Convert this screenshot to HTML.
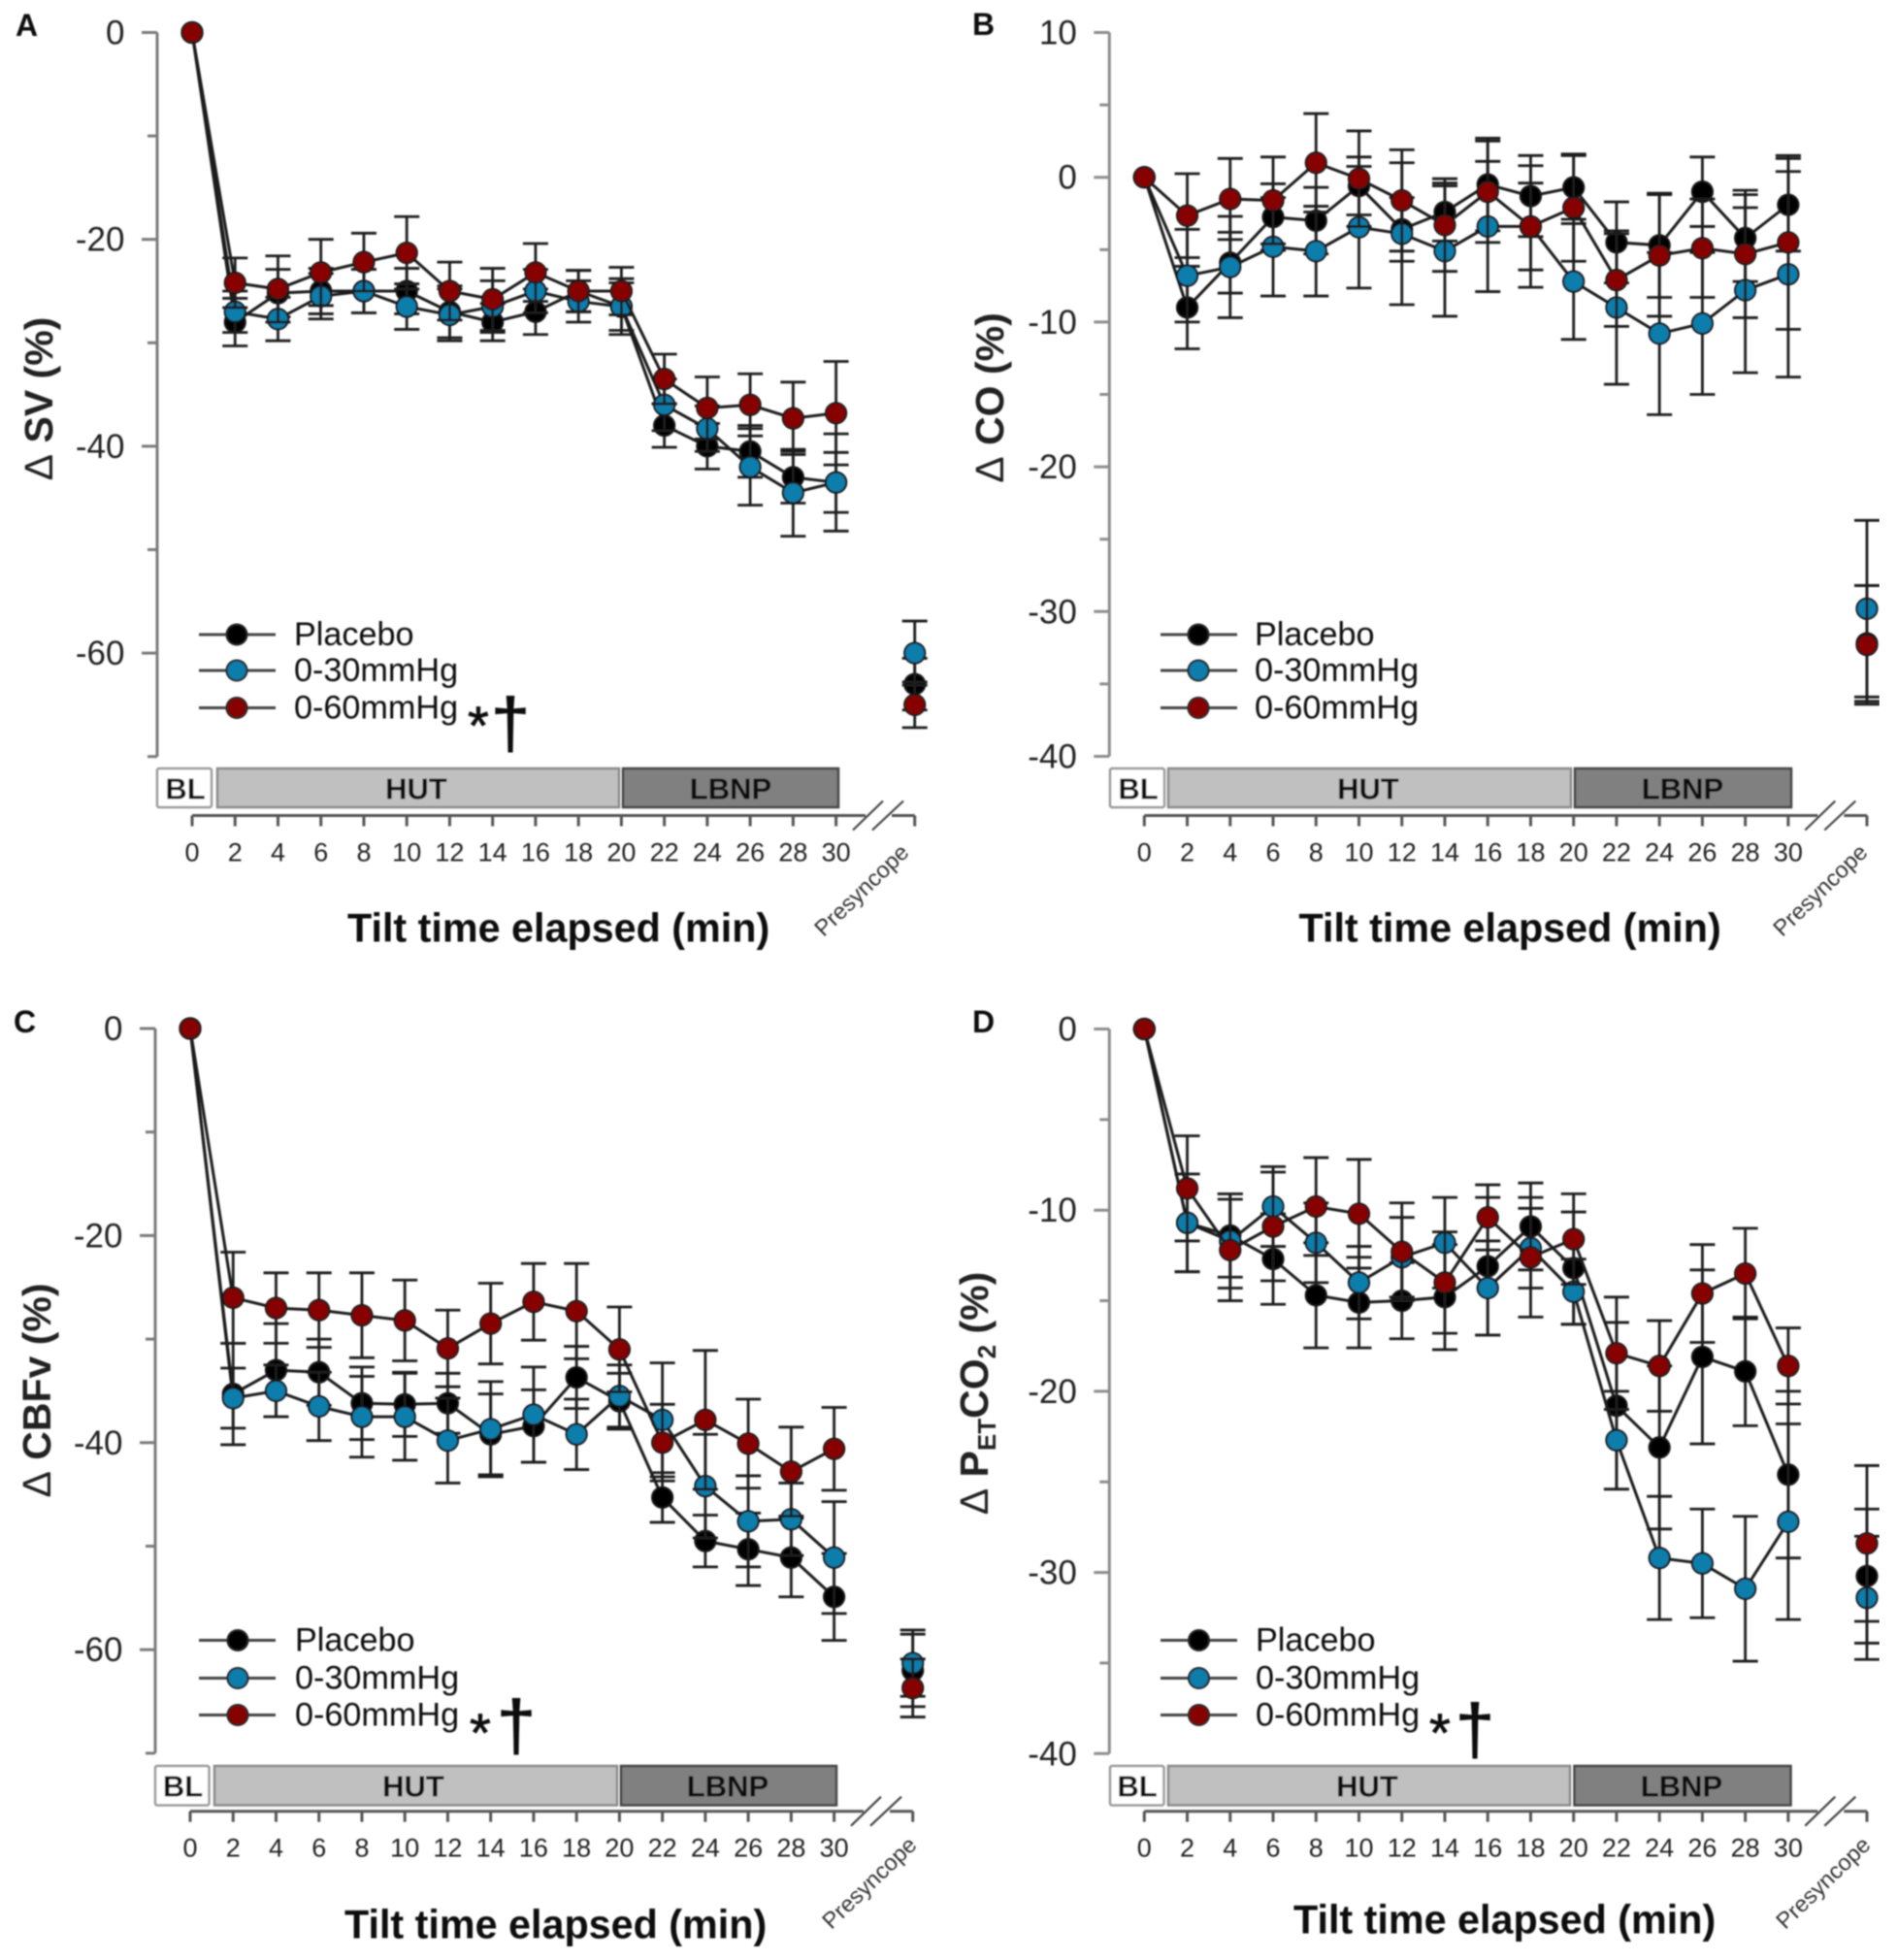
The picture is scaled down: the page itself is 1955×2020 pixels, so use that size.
<!DOCTYPE html>
<html lang="en">
<head>
<meta charset="utf-8">
<title>Tilt time course panels</title>
<style>
html,body{margin:0;padding:0;background:#fff;}
svg{display:block;}
text{font-family:"Liberation Sans",sans-serif;fill:#111;}
.letter{font-size:32px;font-weight:bold;}
.ytitle{font-size:41px;font-weight:bold;fill:#222;}
.delta{font-weight:normal;}
.xtitle{font-size:41.3px;font-weight:bold;}
.legend-text{font-size:34.2px;}
.bar-label{font-size:31px;font-weight:bold;text-anchor:middle;}
.presyncope{font-size:23.5px;fill:#333;text-anchor:end;}
.star{font-size:56px;stroke:#111;stroke-width:0.8;}
.dagger{font-size:72px;text-anchor:middle;stroke:#111;stroke-width:1;}
.ytick-label{font-size:35px;text-anchor:end;fill:#222;}
.xtick-label{font-size:27px;text-anchor:middle;fill:#222;}
.bl{fill:#fff;stroke:#999;stroke-width:2.5;}
.hut{fill:#c0c0c0;stroke:#8a8a8a;stroke-width:2.5;}
.lbnp{fill:#808080;stroke:#444;stroke-width:2.5;}
.leg-line{stroke:#444;stroke-width:3;}
.leg-dot{stroke:#222;stroke-width:2;}
</style>
</head>
<body>
<svg id="figure" xmlns="http://www.w3.org/2000/svg" width="1955" height="2020" viewBox="0 0 1955 2020">
<defs><filter id="soft" x="0" y="0" width="100%" height="100%"><feGaussianBlur stdDeviation="0.7"/></filter></defs>
<rect width="1955" height="2020" fill="#fff"/>
<g filter="url(#soft)">

<g id="panel-a">
  <text class="letter" x="16" y="37">A</text>
  <text class="ytitle" transform="translate(54,411) rotate(-90)" text-anchor="middle"><tspan class="delta">Δ</tspan> SV (%)</text>
  <text class="xtitle" x="358" y="970.5">Tilt time elapsed (min)</text>
  <rect class="bl" x="162" y="792" width="56" height="40" rx="2"/>
  <rect class="hut" x="224" y="792" width="414" height="40"/>
  <rect class="lbnp" x="642" y="792" width="222" height="40"/>
  <text class="bar-label" x="191" y="823.5">BL</text>
  <text class="bar-label" x="429" y="823.5">HUT</text>
  <text class="bar-label" x="753" y="823.5">LBNP</text>
  <text class="presyncope" transform="translate(938,880) rotate(-44)">Presyncope</text>
  <g>
    <line class="leg-line" x1="205" x2="284" y1="654" y2="654"/><circle class="leg-dot" cx="244" cy="654" r="10.5" fill="#000"/>
    <text class="legend-text" x="303" y="665">Placebo</text>
    <line class="leg-line" x1="205" x2="284" y1="691" y2="691"/><circle class="leg-dot" cx="244" cy="691" r="10.5" fill="#0f7dab"/>
    <text class="legend-text" x="303" y="702">0-30mmHg</text>
    <line class="leg-line" x1="205" x2="284" y1="729.5" y2="729.5"/><circle class="leg-dot" cx="244" cy="729.5" r="10.5" fill="#870505"/>
    <text class="legend-text" x="303" y="740.5">0-60mmHg</text>
    <text class="star" x="482" y="767">*</text>
    <text class="dagger" x="526" y="770">†</text>
  </g>
</g>

<g id="panel-b">
  <text class="letter" x="1002" y="36">B</text>
  <text class="ytitle" transform="translate(1034,410) rotate(-90)" text-anchor="middle"><tspan class="delta">Δ</tspan> CO (%)</text>
  <text class="xtitle" x="1338.5" y="970.5">Tilt time elapsed (min)</text>
  <rect class="bl" x="1144" y="792" width="56" height="40" rx="2"/>
  <rect class="hut" x="1204" y="792" width="415" height="40"/>
  <rect class="lbnp" x="1623" y="792" width="223" height="40"/>
  <text class="bar-label" x="1173" y="823.5">BL</text>
  <text class="bar-label" x="1410" y="823.5">HUT</text>
  <text class="bar-label" x="1734" y="823.5">LBNP</text>
  <text class="presyncope" transform="translate(1926,880) rotate(-44)">Presyncope</text>
  <g>
    <line class="leg-line" x1="1196" x2="1275" y1="654" y2="654"/><circle class="leg-dot" cx="1235" cy="654" r="10.5" fill="#000"/>
    <text class="legend-text" x="1293" y="665">Placebo</text>
    <line class="leg-line" x1="1196" x2="1275" y1="691" y2="691"/><circle class="leg-dot" cx="1235" cy="691" r="10.5" fill="#0f7dab"/>
    <text class="legend-text" x="1293" y="702">0-30mmHg</text>
    <line class="leg-line" x1="1196" x2="1275" y1="729.5" y2="729.5"/><circle class="leg-dot" cx="1235" cy="729.5" r="10.5" fill="#870505"/>
    <text class="legend-text" x="1293" y="740.5">0-60mmHg</text>
  </g>
</g>

<g id="panel-c">
  <text class="letter" x="14" y="1064">C</text>
  <text class="ytitle" transform="translate(52,1433) rotate(-90)" text-anchor="middle"><tspan class="delta">Δ</tspan> CBFv (%)</text>
  <text class="xtitle" x="355" y="1997.5">Tilt time elapsed (min)</text>
  <rect class="bl" x="160" y="1820" width="55.5" height="40.5" rx="2"/>
  <rect class="hut" x="221" y="1820" width="415" height="40.5"/>
  <rect class="lbnp" x="640" y="1820" width="222" height="40.5"/>
  <text class="bar-label" x="188.5" y="1851.5">BL</text>
  <text class="bar-label" x="426" y="1851.5">HUT</text>
  <text class="bar-label" x="750" y="1851.5">LBNP</text>
  <text class="presyncope" transform="translate(946,1903) rotate(-44)">Presyncope</text>
  <g>
    <line class="leg-line" x1="205" x2="284" y1="1690.5" y2="1690.5"/><circle class="leg-dot" cx="245" cy="1690.5" r="10.5" fill="#000"/>
    <text class="legend-text" x="304" y="1701.5">Placebo</text>
    <line class="leg-line" x1="205" x2="284" y1="1729.5" y2="1729.5"/><circle class="leg-dot" cx="245" cy="1729.5" r="10.5" fill="#0f7dab"/>
    <text class="legend-text" x="304" y="1740.5">0-30mmHg</text>
    <line class="leg-line" x1="205" x2="284" y1="1767.5" y2="1767.5"/><circle class="leg-dot" cx="245" cy="1767.5" r="10.5" fill="#870505"/>
    <text class="legend-text" x="304" y="1778.5">0-60mmHg</text>
    <text class="star" x="484" y="1805">*</text>
    <text class="dagger" x="532" y="1803">†</text>
  </g>
</g>

<g id="panel-d">
  <text class="letter" x="1002" y="1064">D</text>
  <text class="ytitle" transform="translate(1018,1436) rotate(-90)" text-anchor="middle"><tspan class="delta">Δ</tspan> P<tspan font-size="26" dy="8">ET</tspan><tspan dy="-8">CO</tspan><tspan font-size="26" dy="8">2</tspan><tspan dy="-8"> (%)</tspan></text>
  <text class="xtitle" x="1333" y="1992.5">Tilt time elapsed (min)</text>
  <rect class="bl" x="1144" y="1820" width="55.5" height="40.5" rx="2"/>
  <rect class="hut" x="1204" y="1820" width="414" height="40.5"/>
  <rect class="lbnp" x="1622.5" y="1820" width="223" height="40.5"/>
  <text class="bar-label" x="1172" y="1851.5">BL</text>
  <text class="bar-label" x="1409" y="1851.5">HUT</text>
  <text class="bar-label" x="1733" y="1851.5">LBNP</text>
  <text class="presyncope" transform="translate(1929,1903) rotate(-44)">Presyncope</text>
  <g>
    <line class="leg-line" x1="1196" x2="1275" y1="1690.5" y2="1690.5"/><circle class="leg-dot" cx="1235.5" cy="1690.5" r="10.5" fill="#000"/>
    <text class="legend-text" x="1294" y="1701.5">Placebo</text>
    <line class="leg-line" x1="1196" x2="1275" y1="1729.5" y2="1729.5"/><circle class="leg-dot" cx="1235.5" cy="1729.5" r="10.5" fill="#0f7dab"/>
    <text class="legend-text" x="1294" y="1740.5">0-30mmHg</text>
    <line class="leg-line" x1="1196" x2="1275" y1="1767.5" y2="1767.5"/><circle class="leg-dot" cx="1235.5" cy="1767.5" r="10.5" fill="#870505"/>
    <text class="legend-text" x="1294" y="1778.5">0-60mmHg</text>
    <text class="star" x="1473" y="1805">*</text>
    <text class="dagger" x="1520" y="1807">†</text>
  </g>
</g>
</g>
</svg>

<script>
// Categories: minutes elapsed, last entry is the presyncope point
const timeCategories = [0,2,4,6,8,10,12,14,16,18,20,22,24,26,28,30,'Presyncope'];
const xTickLabels = [0,2,4,6,8,10,12,14,16,18,20,22,24,26,28,30];

// Panel A: SV
const svMajorTicks = [0,-20,-40,-60];
const svMinorTicks = [-10,-30,-50,-70];
const svPlacebo = [0,-28,-25.2,-25,-25,-25,-27,-28,-27,-25,-26.5,-38,-40,-40.5,-43,-43.5,-63];
const svPlaceboErr = [0,2.3,2.3,2.2,2.1,2.2,2.5,1.8,2.2,2,2.3,2.1,2.2,2.5,2.5,2.9,2.5];
const sv30 = [0,-27,-27.7,-25.5,-25,-26.5,-27.3,-26.5,-25,-26,-26.5,-36,-38.3,-42,-44.5,-43.5,-60];
const sv30Err = [0,2,2.1,2.2,2.1,2.2,2.5,2.5,2.1,2,2.7,2.5,2.2,3.7,4.2,4.7,3.1];
const sv60 = [0,-24.2,-24.8,-23.2,-22.2,-21.3,-25,-25.8,-23.2,-25,-25,-33.5,-36.3,-36,-37.3,-36.8,-65];
const sv60Err = [0,2.4,3.2,3.2,2.8,3.5,2.8,3,2.8,2,2.3,2.4,3,3,3.5,5,2.2];

// Panel B: CO
const coMajorTicks = [10,0,-10,-20,-30,-40];
const coMinorTicks = [5,-5,-15,-25,-35];
const coPlacebo = [0,-9,-5.9,-2.75,-3,-0.6,-3.6,-2.4,-0.5,-1.3,-0.7,-4.5,-4.7,-1,-4.2,-1.9,-32.2];
const coPlaceboErr = [0,2.85,2.1,2.3,2.3,2,2.2,2,3.2,2.8,2.2,2.8,3.6,2.4,3,3.2,4];
const co30 = [0,-6.8,-6.2,-4.8,-5.1,-3.45,-3.9,-5.1,-3.4,-3.4,-7.2,-9,-10.8,-10.1,-7.8,-6.7,-29.8];
const co30Err = [0,3.2,3.5,3.4,3.1,4.2,4.9,4.5,4.5,3,4,5.3,5.6,4.9,5.7,7.1,6.1];
const co60 = [0,-2.65,-1.5,-1.6,1,-0.1,-1.6,-3.3,-1,-3.4,-2.1,-7.1,-5.4,-4.9,-5.3,-4.5,-32.3];
const co60Err = [0,2.9,2.8,3,3.4,3.3,3.5,3.2,3.5,4.2,3.7,3.2,4.2,3.4,4.4,6,4.1];

// Panel C: CBFv
const cbfMajorTicks = [0,-20,-40,-60];
const cbfMinorTicks = [-10,-30,-50,-70];
const cbfPlacebo = [0,-35.3,-33,-33.2,-36.2,-36.3,-36.2,-39.2,-38.4,-33.7,-36,-45.3,-49.5,-50.3,-51.1,-54.9,-62];
const cbfPlaceboErr = [0,4.9,4.5,3.2,3.5,3.1,2.9,3.9,3.5,3,2.7,2.4,2.5,3.5,3.8,4.2,3.5];
const cbf30 = [0,-35.7,-35,-36.5,-37.5,-37.5,-39.8,-38.7,-37.3,-39.2,-35.5,-37.8,-44.2,-47.6,-47.4,-51.1,-61.3];
const cbf30Err = [0,2.9,2.5,3.3,3.9,4.2,4.1,4.6,4.6,3.4,3,5.5,5,4.4,3.5,5.4,3.2];
const cbf60 = [0,-26,-27,-27.2,-27.7,-28.2,-30.9,-28.5,-26.4,-27.3,-31,-40,-37.8,-40.1,-42.8,-40.6,-63.7];
const cbf60Err = [0,4.4,3.4,3.6,4.1,3.9,3.7,3.9,3.7,4.6,4.1,3.7,6.7,4.3,4.3,4,2.8];

// Panel D: PETCO2
const petMajorTicks = [0,-10,-20,-30,-40];
const petMinorTicks = [-5,-15,-25,-35];
const petPlacebo = [0,-10.7,-11.4,-12.7,-14.7,-15.1,-15,-14.8,-13.1,-10.9,-13.2,-20.8,-23.1,-18.1,-18.9,-24.6,-30.2];
const petPlaceboErr = [0,2.7,2.3,2.5,2.9,2.5,2.1,2.9,3.8,2.4,3.1,4.6,4.5,4.8,3,4.6,3.7];
const pet30 = [0,-10.7,-11.7,-9.8,-11.8,-14,-12.6,-11.8,-14.3,-12.1,-14.5,-22.7,-29.2,-29.5,-30.9,-27.2,-31.4];
const pet30Err = [0,2.7,2.6,2.2,2.2,2,2.2,2.5,2.6,2.2,1.8,2.7,3.4,3,4,5.4,3.4];
const pet60 = [0,-8.8,-12.2,-10.9,-9.8,-10.2,-12.3,-14,-10.4,-12.6,-11.6,-17.9,-18.6,-14.6,-13.5,-18.6,-28.4];
const pet60Err = [0,2.9,2.8,3,2.7,3,2.7,2.8,1.8,3.3,2.5,3.1,2.5,2.7,2.5,2.1,4.3];

const SVGNS = 'http://www.w3.org/2000/svg';
function mk(parent, tag, attrs, txt){
  const el = document.createElementNS(SVGNS, tag);
  for (const k in attrs) el.setAttribute(k, attrs[k]);
  if (txt !== undefined) el.textContent = txt;
  parent.appendChild(el);
  return el;
}

function drawPanel(cfg){
  const root = document.getElementById(cfg.id);
  const xScale = function(i){
    return timeCategories[i] === 'Presyncope' ? cfg.x0 + 744.7 : cfg.x0 + timeCategories[i] * 22.12;
  };
  const xMinute = function(t){ return cfg.x0 + t * 22.12; };
  const yScale = function(v){ return cfg.yTop + (cfg.vTop - v) * cfg.pxPerUnit; };
  const yBottomVal = cfg.vBottom;

  // y axis
  const yAxis = mk(root, 'g', {stroke: cfg.axisColor, 'stroke-width': 3, fill: 'none'});
  
  
  mk(yAxis, 'line', {x1: cfg.axisX, x2: cfg.axisX, y1: yScale(cfg.vTop), y2: yScale(yBottomVal)});
  cfg.major.forEach(function(v){
    const t = mk(yAxis, 'line', {x1: cfg.axisX - 16, x2: cfg.axisX, y1: yScale(v), y2: yScale(v)});
    
    
    const l = mk(root, 'text', {'class': 'ytick-label', x: cfg.axisX - 33.5, y: yScale(v) + 12}, String(v));
    
    
  });
  cfg.minor.forEach(function(v){
    const t = mk(yAxis, 'line', {x1: cfg.axisX - 10, x2: cfg.axisX, y1: yScale(v), y2: yScale(v)});
    
    
  });

  // x axis with break
  const xAxis = mk(root, 'g', {stroke: '#555', 'stroke-width': 3, fill: 'none'});
  
  
  mk(xAxis, 'line', {x1: cfg.x0, x2: cfg.x0 + 694, y1: cfg.axisY, y2: cfg.axisY});
  mk(xAxis, 'line', {x1: cfg.x0 + 721, x2: cfg.x0 + 744.7, y1: cfg.axisY, y2: cfg.axisY});
  mk(xAxis, 'line', {x1: cfg.x0 + 744.7, x2: cfg.x0 + 744.7, y1: cfg.axisY, y2: cfg.axisY + 11});
  mk(xAxis, 'line', {x1: cfg.x0 + 681, x2: cfg.x0 + 712, y1: cfg.axisY + 15, y2: cfg.axisY - 15, 'stroke-width': 2.2, stroke: '#444'});
  mk(xAxis, 'line', {x1: cfg.x0 + 701, x2: cfg.x0 + 733, y1: cfg.axisY + 15, y2: cfg.axisY - 15, 'stroke-width': 2.2, stroke: '#444'});
  xTickLabels.forEach(function(t){
    const tk = mk(xAxis, 'line', {x1: xMinute(t), x2: xMinute(t), y1: cfg.axisY, y2: cfg.axisY + 11});
    
    
    const l = mk(root, 'text', {'class': 'xtick-label', x: xMinute(t), y: cfg.axisY + 47}, String(t));
    
    
  });

  // series
  cfg.series.forEach(function(s){
    const g = mk(root, 'g', {});
    
    
    const pts = [];
    for (let i = 0; i < timeCategories.length - 1; i++) pts.push(xScale(i).toFixed(1) + ',' + yScale(s.values[i]).toFixed(1));
    const pl = mk(g, 'polyline', {points: pts.join(' '), fill: 'none', stroke: '#1c1c1c', 'stroke-width': 3});
    
    
    s.values.forEach(function(v, i){
      const e = s.errors[i];
      if (!e) return;
      const x = xScale(i);
      const eg = mk(g, 'g', {stroke: '#1c1c1c', 'stroke-width': 2.8});
      
      
      mk(eg, 'line', {x1: x, x2: x, y1: yScale(v + e), y2: yScale(v - e)});
      mk(eg, 'line', {x1: x - 13, x2: x + 13, y1: yScale(v + e), y2: yScale(v + e)});
      mk(eg, 'line', {x1: x - 13, x2: x + 13, y1: yScale(v - e), y2: yScale(v - e)});
    });
    s.values.forEach(function(v, i){
      const c = mk(g, 'circle', {cx: xScale(i), cy: yScale(v), r: 10.6, fill: s.color, stroke: '#161616', 'stroke-width': 2});
      
      
    });
  });
}

const colorPlacebo = '#000000';
const color30 = '#0f7dab';
const color60 = '#870505';

drawPanel({id:'panel-a', x0:198, axisX:162, axisColor:'#7a7a7a', axisY:840.5, yTop:33.5, vTop:0, vBottom:-70, pxPerUnit:10.66,
  major:svMajorTicks, minor:svMinorTicks,
  series:[{name:'placebo',values:svPlacebo,errors:svPlaceboErr,color:colorPlacebo},
          {name:'0-30mmhg',values:sv30,errors:sv30Err,color:color30},
          {name:'0-60mmhg',values:sv60,errors:sv60Err,color:color60}]});
drawPanel({id:'panel-b', x0:1179.3, axisX:1143.3, axisColor:'#8c8c8c', axisY:840.5, yTop:33.5, vTop:10, vBottom:-40, pxPerUnit:14.92,
  major:coMajorTicks, minor:coMinorTicks,
  series:[{name:'placebo',values:coPlacebo,errors:coPlaceboErr,color:colorPlacebo},
          {name:'0-30mmhg',values:co30,errors:co30Err,color:color30},
          {name:'0-60mmhg',values:co60,errors:co60Err,color:color60}]});
drawPanel({id:'panel-c', x0:196, axisX:160, axisColor:'#7a7a7a', axisY:1866.7, yTop:1060, vTop:0, vBottom:-70, pxPerUnit:10.67,
  major:cbfMajorTicks, minor:cbfMinorTicks,
  series:[{name:'placebo',values:cbfPlacebo,errors:cbfPlaceboErr,color:colorPlacebo},
          {name:'0-30mmhg',values:cbf30,errors:cbf30Err,color:color30},
          {name:'0-60mmhg',values:cbf60,errors:cbf60Err,color:color60}]});
drawPanel({id:'panel-d', x0:1179.3, axisX:1143.3, axisColor:'#8c8c8c', axisY:1866.7, yTop:1060.5, vTop:0, vBottom:-40, pxPerUnit:18.67,
  major:petMajorTicks, minor:petMinorTicks,
  series:[{name:'placebo',values:petPlacebo,errors:petPlaceboErr,color:colorPlacebo},
          {name:'0-30mmhg',values:pet30,errors:pet30Err,color:color30},
          {name:'0-60mmhg',values:pet60,errors:pet60Err,color:color60}]});
</script>
</body>
</html>
